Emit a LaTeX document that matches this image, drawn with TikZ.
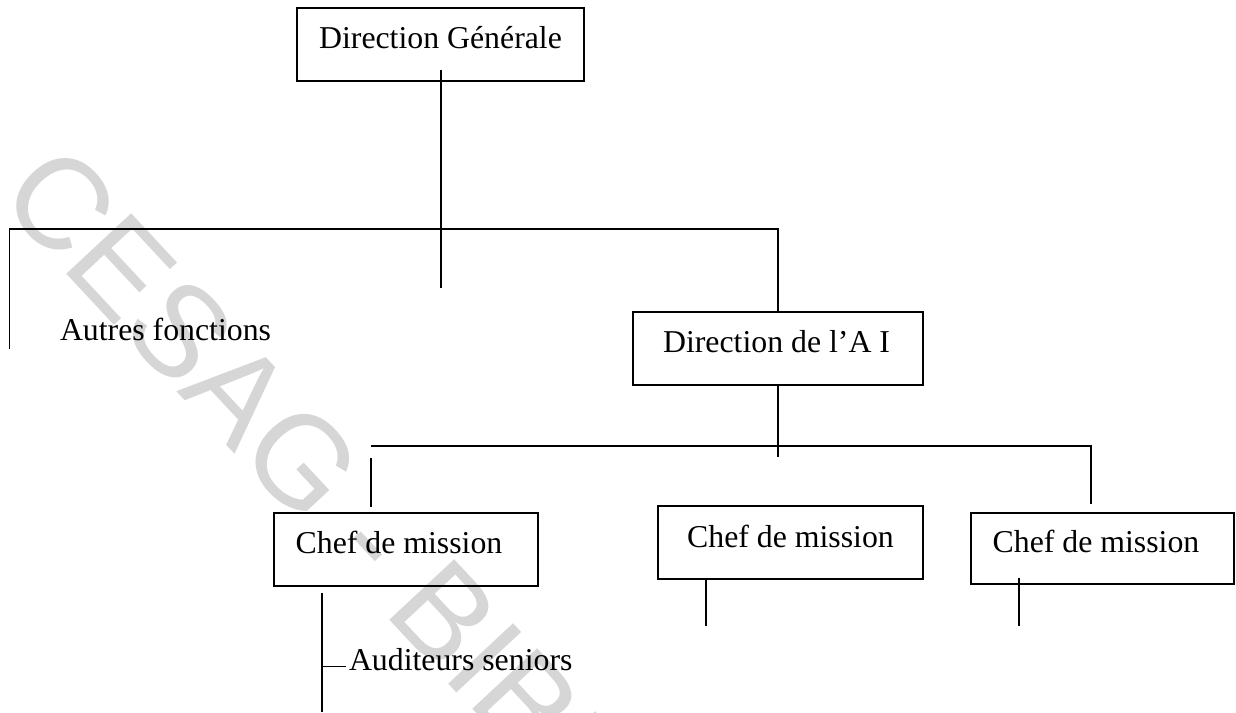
\documentclass[tikz,border=0pt]{standalone}
\usepackage{fontspec}
\setmainfont{Liberation Serif}
\newfontfamily\markfont{Liberation Sans}
\begin{document}
\begin{tikzpicture}[x=1pt,y=-1pt,
  every node/.style={inner sep=0pt,outer sep=0pt},
  box/.style={draw=black,line width=1.9pt,rectangle,minimum height=73pt},
  lbl/.style={font=\fontsize{31.8}{38}\selectfont,anchor=base},
  link/.style={draw=black,line width=1.9pt},
  wm/.style={font=\markfont\fontsize{129}{150}\selectfont,text=black!16,anchor=base west,rotate=-47}]
\useasboundingbox (0,0) rectangle (1236,712);
\fill[white] (0,0) rectangle (1236,712);

% library stamp across the sheet
\begin{scope}
  \clip (0,0) rectangle (1236,712);
  \node[wm] (stamp) at (-4,198) {CESAG - BIBLIOTHEQUE};
\end{scope}

% boxes
\node[box,minimum width=287pt] (dg)  at (440.5,44.5) {};
\node[box,minimum width=290pt] (dai) at (778,348.5) {};
\node[box,minimum width=264pt] (cm1) at (406,549.5) {};
\node[box,minimum width=265pt] (cm2) at (790.5,542.5) {};
\node[box,minimum width=263pt,minimum height=71pt] (cm3) at (1102.5,548.5) {};

% labels
\node[lbl] (tdg)  at (440.5,48) {Direction Générale};
\node[lbl,anchor=base west] (taf) at (60,340) {Autres fonctions};
\node[lbl] (tdai) at (776.5,352) {Direction de l’A I};
\node[lbl] (tcm1) at (399,553) {Chef de mission};
\node[lbl] (tcm2) at (790.5,547) {Chef de mission};
\node[lbl] (tcm3) at (1096,552) {Chef de mission};
\node[lbl,anchor=base west] (taud) at (349,670) {Auditeurs seniors};

% junction points
\coordinate (dgstem) at (441,70);
\coordinate (j1)     at (441,229);
\coordinate (lt)     at (9.5,229);
\coordinate (ltend)  at (9.5,349);
\coordinate (rt)     at (778,229);
\coordinate (midend) at (441,288);
\coordinate (j2)     at (778,457);
\coordinate (h2l)    at (371,446);
\coordinate (h2r)    at (1091,446);
\coordinate (d2l)    at (371,458);
\coordinate (d2lend) at (371,507);
\coordinate (d2rend) at (1091,504);
\coordinate (s1)     at (322,593);
\coordinate (s1end)  at (322,712);
\coordinate (tick)   at (322,666.5);
\coordinate (tickend) at (346,666.5);
\coordinate (s2end)  at (706,626);
\coordinate (s3)     at (1019,578);
\coordinate (s3end)  at (1019,626);

% first level
\draw[link] (dgstem) -- (j1);
\draw[link] (ltend) -- (lt) -- (rt) -- (dai.north);
\draw[link] (j1) -- (midend);

% second level
\draw[link] (dai.south) -- (j2);
\draw[link] (h2l) -- (h2r) -- (d2rend);
\draw[link] (d2l) -- (d2lend);

% below the mission heads
\draw[link] (s1) -- (s1end);
\draw[link] (tick) -- (tickend);
\draw[link] (cm2.south -| s2end) -- (s2end);
\draw[link] (s3) -- (s3end);
\end{tikzpicture}
\end{document}
